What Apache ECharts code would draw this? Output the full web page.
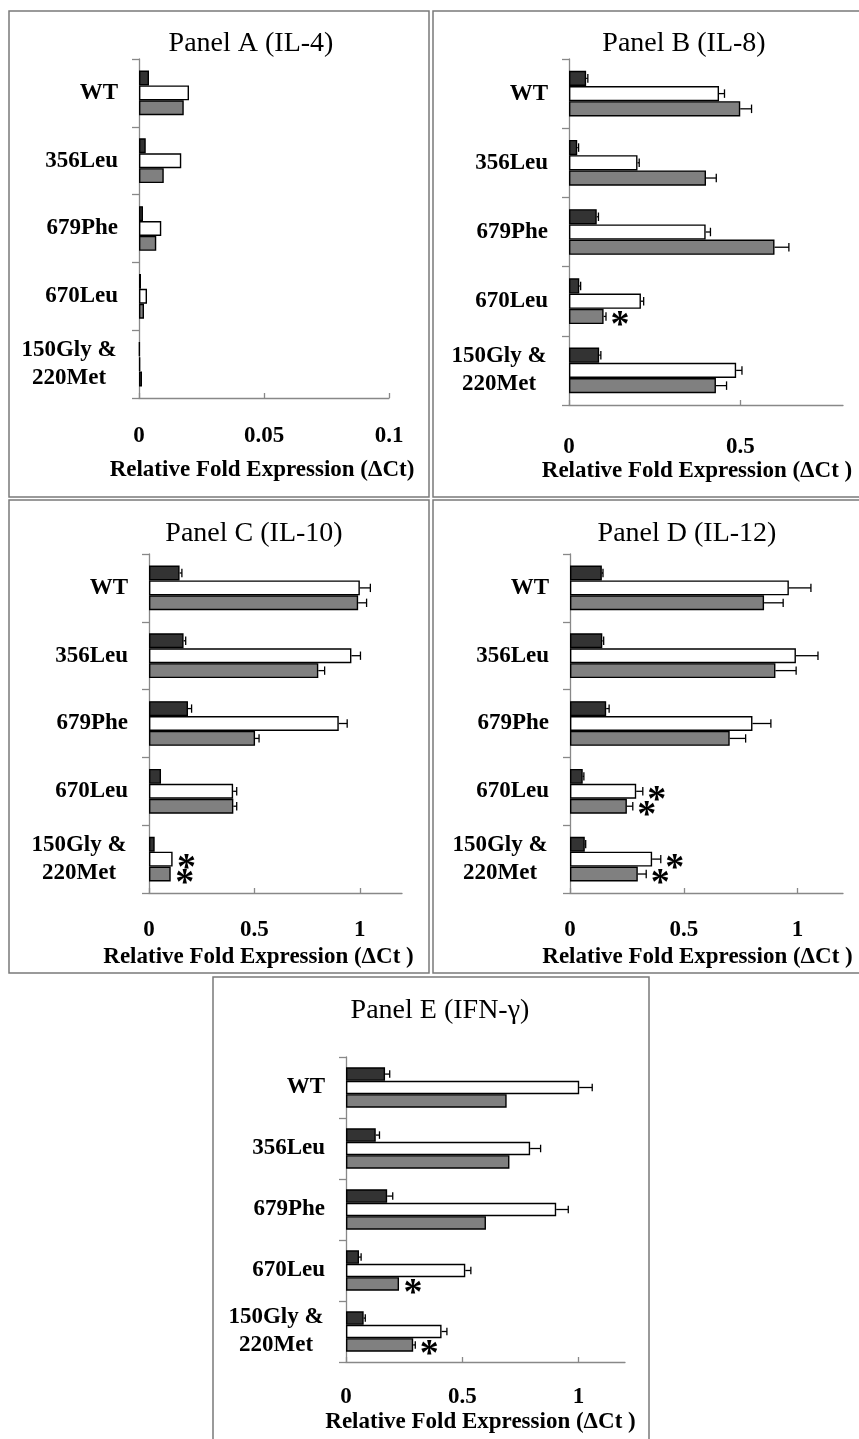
<!DOCTYPE html>
<html><head><meta charset="utf-8">
<script src="https://cdn.jsdelivr.net/npm/echarts@6/dist/echarts.min.js"></script>
<style>html,body{margin:0;padding:0;background:#fff}#c{width:859px;height:1439px}</style>
</head><body><div id="c"></div>
<script>
// ---------- data ----------
const categories = ['WT', '356Leu', '679Phe', '670Leu', '150Gly &\n220Met'];

// Panel A (IL-4)
const aDark  = [0.0040, 0.0027, 0.0016, 0.0008, 0.0003];
const aWhite = [0.0200, 0.0169, 0.0089, 0.0032, 0.0005];
const aGray  = [0.0179, 0.0099, 0.0069, 0.0020, 0.0012];
const aDarkErr = [0, 0, 0, 0, 0], aWhiteErr = [0, 0, 0, 0, 0], aGrayErr = [0, 0, 0, 0, 0];
const aWhiteSig = [0, 0, 0, 0, 0], aGraySig = [0, 0, 0, 0, 0];

// Panel B (IL-8)
const bDark  = [0.050, 0.024, 0.081, 0.030, 0.088];
const bWhite = [0.438, 0.200, 0.399, 0.210, 0.488];
const bGray  = [0.500, 0.400, 0.600, 0.101, 0.429];
const bDarkErr  = [0.005, 0.004, 0.005, 0.004, 0.005];
const bWhiteErr = [0.016, 0.005, 0.014, 0.008, 0.017];
const bGrayErr  = [0.033, 0.030, 0.042, 0.007, 0.031];
const bWhiteSig = [0, 0, 0, 0, 0], bGraySig = [0, 0, 0, 1, 0];

// Panel C (IL-10)
const cDark  = [0.145, 0.164, 0.185, 0.057, 0.027];
const cWhite = [1.000, 0.960, 0.900, 0.399, 0.112];
const cGray  = [0.992, 0.803, 0.503, 0.400, 0.103];
const cDarkErr  = [0.011, 0.010, 0.017, 0, 0];
const cWhiteErr = [0.050, 0.043, 0.040, 0.017, 0];
const cGrayErr  = [0.040, 0.030, 0.019, 0.016, 0];
const cWhiteSig = [0, 0, 0, 0, 1], cGraySig = [0, 0, 0, 0, 1];

// Panel D (IL-12)
const dDark  = [0.140, 0.142, 0.159, 0.056, 0.065];
const dWhite = [0.962, 0.993, 0.802, 0.291, 0.361];
const dGray  = [0.853, 0.903, 0.702, 0.250, 0.298];
const dDarkErr  = [0.005, 0.006, 0.013, 0.005, 0.004];
const dWhiteErr = [0.097, 0.097, 0.081, 0.029, 0.038];
const dGrayErr  = [0.084, 0.091, 0.070, 0.026, 0.037];
const dWhiteSig = [0, 0, 0, 1, 1], dGraySig = [0, 0, 0, 1, 1];

// Panel E (IFN-γ)
const eDark  = [0.168, 0.128, 0.177, 0.056, 0.076];
const eWhite = [1.003, 0.792, 0.904, 0.513, 0.411];
const eGray  = [0.691, 0.703, 0.602, 0.228, 0.289];
const eDarkErr  = [0.020, 0.016, 0.024, 0.009, 0.007];
const eWhiteErr = [0.056, 0.045, 0.052, 0.024, 0.023];
const eGrayErr  = [0, 0, 0, 0, 0.009];
const eWhiteSig = [0, 0, 0, 0, 0], eGraySig = [0, 0, 0, 1, 1];

const titles = ['Panel A (IL-4)', 'Panel B (IL-8)', 'Panel C (IL-10)', 'Panel D (IL-12)', 'Panel E (IFN-\u03b3)'];
const axisNames = ['Relative Fold Expression (\u0394Ct)', 'Relative Fold Expression (\u0394Ct )',
  'Relative Fold Expression (\u0394Ct )', 'Relative Fold Expression (\u0394Ct )', 'Relative Fold Expression (\u0394Ct )'];
const xMax = [0.1, 0.8, 1.2, 1.2, 1.2];
const xTicks = [[0, 0.05, 0.1], [0, 0.5], [0, 0.5, 1], [0, 0.5, 1], [0, 0.5, 1]];

// ---------- layout (pixels) ----------
const layout = [
  {grid: {left: 139, top: 59, width: 250, height: 339}, title: [251, 29], box: [9, 11, 420, 486], lm: 27, ng: 61, shift: 2},
  {grid: {left: 569, top: 59, width: 274, height: 346}, title: [684, 29], box: [433, 11, 440, 486], lm: 31, ng: 54, shift: 9},
  {grid: {left: 149, top: 554, width: 253, height: 339}, title: [254, 519], box: [9, 500, 420, 473], lm: 26, ng: 53, shift: 17},
  {grid: {left: 570, top: 554, width: 273, height: 339}, title: [687, 519], box: [433, 500, 440, 473], lm: 26, ng: 53, shift: 9},
  {grid: {left: 346, top: 1057, width: 279, height: 305}, title: [440, 996], box: [213, 977, 436, 480], lm: 24, ng: 49, shift: 5}
];

const panelData = [
  [aDark, aWhite, aGray, aDarkErr, aWhiteErr, aGrayErr, aWhiteSig, aGraySig],
  [bDark, bWhite, bGray, bDarkErr, bWhiteErr, bGrayErr, bWhiteSig, bGraySig],
  [cDark, cWhite, cGray, cDarkErr, cWhiteErr, cGrayErr, cWhiteSig, cGraySig],
  [dDark, dWhite, dGray, dDarkErr, dWhiteErr, dGrayErr, dWhiteSig, dGraySig],
  [eDark, eWhite, eGray, eDarkErr, eWhiteErr, eGrayErr, eWhiteSig, eGraySig]
];

const FONT = '"Liberation Serif", "Times New Roman", serif';
const AXIS_COLOR = '#888';
const GAP = 0.34;
const barColors = ['#333333', '#ffffff', '#808080'];
const seriesNames = ['Dark', 'White', 'Gray'];

const grids = [], xAxes = [], yAxes = [], series = [], titleList = [], graphics = [];

layout.forEach((L, i) => {
  grids.push(Object.assign({outerBoundsMode: 'none', containLabel: false}, L.grid));
  titleList.push({
    text: titles[i], left: L.title[0], top: L.title[1], textAlign: 'center', padding: 0,
    textStyle: {fontFamily: FONT, fontSize: 28, fontWeight: 'normal', color: '#000', lineHeight: 30}
  });
  graphics.push({
    type: 'rect', silent: true, z: -10,
    shape: {x: L.box[0], y: L.box[1], width: L.box[2], height: L.box[3]},
    style: {fill: 'none', stroke: '#7a7a7a', lineWidth: 1.5}
  });
  xAxes.push({
    type: 'value', gridIndex: i, min: 0, max: xMax[i],
    name: axisNames[i], nameLocation: 'middle', nameGap: L.ng,
    nameTextStyle: {fontFamily: FONT, fontSize: 23, fontWeight: 'bold', color: '#000', padding: [0, 2 * L.shift, 0, 0]},
    axisLine: {show: true, lineStyle: {color: AXIS_COLOR, width: 1.3}},
    axisTick: {show: true, inside: true, length: 5, customValues: xTicks[i], lineStyle: {color: AXIS_COLOR, width: 1.3}},
    axisLabel: {customValues: xTicks[i], margin: L.lm, fontFamily: FONT, fontSize: 23, fontWeight: 'bold', color: '#000',
      formatter: v => String(v)},
    splitLine: {show: false}
  });
  yAxes.push({
    type: 'category', gridIndex: i, data: categories, inverse: true,
    axisLine: {show: true, lineStyle: {color: AXIS_COLOR, width: 1.3}},
    axisTick: {show: true, length: 7, lineStyle: {color: AXIS_COLOR, width: 1.3}},
    axisLabel: {
      margin: 21, fontFamily: FONT, fontSize: 23, fontWeight: 'bold', color: '#000', lineHeight: 28,
      formatter: v => v.indexOf('\n') >= 0 ? v.split('\n').map(s => '{c|' + s + '}').join('\n') : v,
      rich: {c: {width: 98, align: 'center', fontFamily: FONT, fontSize: 23, fontWeight: 'bold', color: '#000', lineHeight: 28}}
    },
    splitLine: {show: false}
  });
  const D = panelData[i];
  for (let k = 0; k < 3; k++) {
    series.push({
      type: 'bar', name: seriesNames[k], xAxisIndex: i, yAxisIndex: i, data: D[k],
      barGap: '0%', barCategoryGap: (GAP * 100) + '%', silent: true,
      itemStyle: {color: barColors[k], borderColor: '#000', borderWidth: 1.4}
    });
  }
  // error bars + significance marks
  const ebData = [];
  for (let k = 0; k < 3; k++) {
    const vals = D[k], errs = D[3 + k];
    const sig = k === 0 ? [0, 0, 0, 0, 0] : D[5 + k];
    for (let c = 0; c < categories.length; c++) ebData.push([c, vals[c], errs[c], sig[c], k]);
  }
  series.push({
    type: 'custom', xAxisIndex: i, yAxisIndex: i, data: ebData, silent: true, z: 5,
    encode: {x: 1, y: 0},
    renderItem: (params, api) => {
      const c = api.value(0), v = api.value(1), e = api.value(2), s = api.value(3), k = api.value(4);
      const band = api.size([0, 1])[1];
      const w = band * (1 - GAP) / 3;
      const p0 = api.coord([v, c]), p1 = api.coord([v + e, c]);
      const yc = p0[1] - 1.5 * w + (k + 0.5) * w;
      const children = [];
      if (e > 0) {
        const cap = w * 0.28;
        children.push({type: 'line', shape: {x1: p0[0], y1: yc, x2: p1[0], y2: yc}, style: {stroke: '#000', lineWidth: 1.3}});
        children.push({type: 'line', shape: {x1: p1[0], y1: yc - cap, x2: p1[0], y2: yc + cap}, style: {stroke: '#000', lineWidth: 1.3}});
      }
      if (s) {
        children.push({type: 'text', style: {text: '*', x: p1[0] + 14, y: yc + 10, align: 'center', verticalAlign: 'middle',
          font: 'bold 38px ' + FONT, fill: '#000'}});
      }
      return {type: 'group', children};
    }
  });
});

const chart = echarts.init(document.getElementById('c'), null, {renderer: 'canvas'});
chart.setOption({
  animation: false,
  backgroundColor: '#fff',
  title: titleList,
  grid: grids,
  xAxis: xAxes,
  yAxis: yAxes,
  series: series,
  graphic: graphics
});
</script>
</body></html>
